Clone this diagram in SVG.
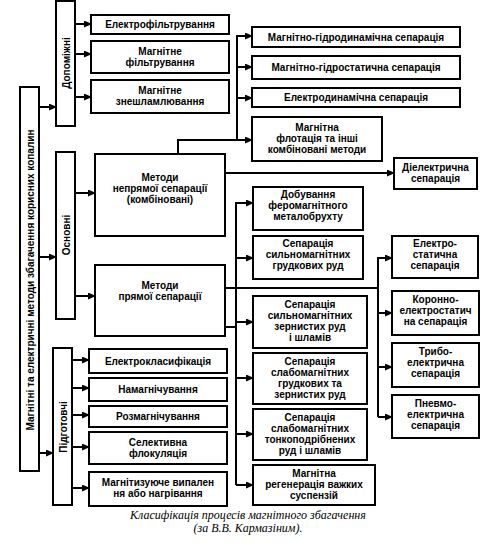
<svg xmlns="http://www.w3.org/2000/svg" width="490" height="546" viewBox="0 0 490 546">
<style>
.b{fill:#fff;stroke:#000;stroke-width:2}
.t{font-family:"Liberation Sans",Arial,sans-serif;font-weight:bold;font-size:10px;text-anchor:middle;fill:#000}
.c{fill:none;stroke:#000;stroke-width:2}
.a{fill:none;stroke:#000;stroke-width:2;marker-end:url(#ar)}
.cap{font-family:"Liberation Serif","Times New Roman",serif;font-style:italic;font-size:12px;text-anchor:middle;fill:#000}
</style>
<defs>
<marker id="ar" markerUnits="userSpaceOnUse" markerWidth="8" markerHeight="7" refX="7" refY="3.5" orient="auto"><path d="M0,0 L8,3.5 L0,7 z" fill="#000"/></marker>
</defs>
<rect width="490" height="546" fill="#fff"/>
<g id="connectors">
<path class="a" d="M39,107 H56"/>
<path class="a" d="M39,257 H56"/>
<path class="a" d="M39,453 H53"/>
<path class="a" d="M75,24 H91"/>
<path class="a" d="M75,54 H91"/>
<path class="a" d="M75,97 H91"/>
<path class="a" d="M75,193 H95"/>
<path class="a" d="M75,296 H95"/>
<path class="a" d="M72,360 H89"/>
<path class="a" d="M72,388 H89"/>
<path class="a" d="M72,415 H89"/>
<path class="a" d="M72,447 H89"/>
<path class="a" d="M72,488 H89"/>
<path class="a" d="M178,154 V140 H252"/>
<path class="a" d="M237,140 V36 H252"/>
<path class="a" d="M237,67 H252"/>
<path class="a" d="M237,98 H252"/>
<path class="a" d="M225,173 H394"/>
<path class="c" d="M225,288 H378"/>
<path class="a" d="M378,417 V258 H392"/>
<path class="a" d="M378,313 H392"/>
<path class="a" d="M378,367 H392"/>
<path class="a" d="M378,417 H392"/>
<path class="c" d="M225,327 H236"/>
<path class="a" d="M236,485 V203 H253"/>
<path class="a" d="M236,258 H253"/>
<path class="a" d="M236,322 H253"/>
<path class="a" d="M236,378 H253"/>
<path class="a" d="M236,434 H253"/>
<path class="a" d="M236,485 H253"/>
</g>
<g id="main"><rect class="b" x="20" y="87" width="19" height="384"/><text class="t" transform="translate(33.5,280) rotate(-90)">Магнітні та електричні методи збагачення корисних копалин</text></g>
<g id="dopomizhni"><rect class="b" x="56" y="1" width="19" height="125"/><text class="t" transform="translate(69.5,63) rotate(-90)">Допоміжні</text></g>
<g id="osnovni"><rect class="b" x="56" y="152" width="19" height="167"/><text class="t" transform="translate(69.5,235) rotate(-90)">Основні</text></g>
<g id="pidgotovchi"><rect class="b" x="53" y="348" width="19" height="157"/><text class="t" transform="translate(66.5,427) rotate(-90)">Підготовчі</text></g>
<g id="elektrofiltr"><rect class="b" x="91" y="15" width="138" height="19"/><text class="t" x="160" y="28">Електрофільтрування</text></g>
<g id="magnfiltr"><rect class="b" x="91" y="41" width="138" height="32"/><text class="t" x="160" y="55">Магнітне</text><text class="t" x="160" y="66">фільтрування</text></g>
<g id="znesh"><rect class="b" x="91" y="80" width="138" height="33"/><text class="t" x="160" y="94">Магнітне</text><text class="t" x="160" y="105">знешламлювання</text></g>
<g id="mgd"><rect class="b" x="252" y="27" width="208" height="20"/><text class="t" x="356" y="40.5">Магнітно-гідродинамічна сепарація</text></g>
<g id="mgs"><rect class="b" x="252" y="56" width="208" height="23"/><text class="t" x="356" y="71">Магнітно-гідростатична сепарація</text></g>
<g id="ed"><rect class="b" x="252" y="88" width="208" height="19"/><text class="t" x="356" y="101">Електродинамічна сепарація</text></g>
<g id="flot"><rect class="b" x="252" y="117" width="130" height="44"/><text class="t" x="317" y="131">Магнітна</text><text class="t" x="317" y="142">флотація та інші</text><text class="t" x="317" y="153">комбіновані методи</text></g>
<g id="diel"><rect class="b" x="394" y="158" width="83" height="31"/><text class="t" x="435.5" y="171">Діелектрична</text><text class="t" x="435.5" y="182">сепарація</text></g>
<g id="nepryam"><rect class="b" x="95" y="154" width="130" height="82"/><text class="t" x="160" y="181">Методи</text><text class="t" x="160" y="192">непрямої сепарації</text><text class="t" x="160" y="203">(комбіновані)</text></g>
<g id="pryam"><rect class="b" x="95" y="265" width="130" height="71"/><text class="t" x="160" y="289">Методи</text><text class="t" x="160" y="300">прямої сепарації</text></g>
<g id="dobuv"><rect class="b" x="253" y="187" width="110" height="43"/><text class="t" x="308" y="198">Добування</text><text class="t" x="308" y="209">феромагнітного</text><text class="t" x="308" y="220">металобрухту</text></g>
<g id="sylgrud"><rect class="b" x="253" y="236" width="110" height="43"/><text class="t" x="308" y="247">Сепарація</text><text class="t" x="308" y="258">сильномагнітних</text><text class="t" x="308" y="269">грудкових руд</text></g>
<g id="sylzern"><rect class="b" x="253" y="296" width="114" height="52"/><text class="t" x="310" y="308">Сепарація</text><text class="t" x="310" y="319">сильномагнітних</text><text class="t" x="310" y="330">зернистих руд</text><text class="t" x="310" y="341">і шламів</text></g>
<g id="slabgrud"><rect class="b" x="253" y="353" width="114" height="51"/><text class="t" x="310" y="365">Сепарація</text><text class="t" x="310" y="376">слабомагнітних</text><text class="t" x="310" y="387">грудкових та</text><text class="t" x="310" y="398">зернистих руд</text></g>
<g id="slabton"><rect class="b" x="253" y="409" width="114" height="51"/><text class="t" x="310" y="421">Сепарація</text><text class="t" x="310" y="432">слабомагнітних</text><text class="t" x="310" y="443">тонкоподрібнених</text><text class="t" x="310" y="454">руд і шламів</text></g>
<g id="regen"><rect class="b" x="253" y="465" width="122" height="40"/><text class="t" x="314" y="477">Магнітна</text><text class="t" x="314" y="488">регенерація важких</text><text class="t" x="314" y="499">суспензій</text></g>
<g id="elstat"><rect class="b" x="392" y="236" width="86" height="42"/><text class="t" x="435" y="247">Електро-</text><text class="t" x="435" y="258">статична</text><text class="t" x="435" y="269">сепарація</text></g>
<g id="koron"><rect class="b" x="392" y="291" width="87" height="44"/><text class="t" x="435.5" y="303">Коронно-</text><text class="t" x="435.5" y="314">електростатич</text><text class="t" x="435.5" y="325">на сепарація</text></g>
<g id="trybo"><rect class="b" x="392" y="343" width="87" height="44"/><text class="t" x="435.5" y="355">Трибо-</text><text class="t" x="435.5" y="366">електрична</text><text class="t" x="435.5" y="377">сепарація</text></g>
<g id="pnevmo"><rect class="b" x="392" y="395" width="87" height="43"/><text class="t" x="435.5" y="407">Пневмо-</text><text class="t" x="435.5" y="418">електрична</text><text class="t" x="435.5" y="429">сепарація</text></g>
<g id="elklas"><rect class="b" x="89" y="349" width="138" height="24"/><text class="t" x="158" y="364.5">Електрокласифікація</text></g>
<g id="namagn"><rect class="b" x="89" y="378" width="138" height="23"/><text class="t" x="158" y="393">Намагнічування</text></g>
<g id="rozmagn"><rect class="b" x="89" y="406" width="138" height="21"/><text class="t" x="158" y="420">Розмагнічування</text></g>
<g id="flok"><rect class="b" x="89" y="432" width="138" height="32"/><text class="t" x="158" y="446">Селективна</text><text class="t" x="158" y="457">флокуляція</text></g>
<g id="vypal"><rect class="b" x="89" y="472" width="138" height="34"/><text class="t" x="158" y="486">Магнітизуюче випален</text><text class="t" x="158" y="497">ня або нагрівання</text></g>
<g id="caption"><text class="cap" x="248" y="519">Класифікація процесів магнітного збагачення</text><text class="cap" x="248" y="532">(за В.В. Кармазіним).</text></g>
</svg>
